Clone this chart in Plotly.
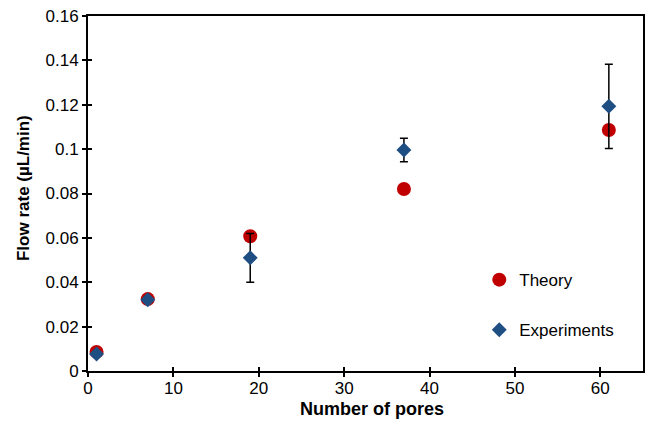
import plotly.graph_objects as go

pores = [1, 7, 19, 37, 61]
theory = [0.0086, 0.0324, 0.0607, 0.0820, 0.1086]
experiments = [0.0077, 0.0321, 0.0510, 0.0996, 0.1193]
exp_err = [0.0, 0.0, 0.011, 0.0053, 0.019]

x_ticks = [0, 10, 20, 30, 40, 50, 60]
y_ticks = [0, 0.02, 0.04, 0.06, 0.08, 0.1, 0.12, 0.14, 0.16]
y_tick_labels = ["0", "0.02", "0.04", "0.06", "0.08", "0.1", "0.12", "0.14", "0.16"]

FONT = "Liberation Sans, Arial, sans-serif"

fig = go.Figure()
fig.add_trace(go.Scatter(
    x=pores, y=theory, mode="markers", name="Theory",
    marker=dict(symbol="circle", size=14, color="#C00000"),
    legend="legend",
))
fig.add_trace(go.Scatter(
    x=pores, y=experiments, mode="markers", name="Experiments",
    marker=dict(symbol="diamond", size=11.5, color="#1F4E82"),
    error_y=dict(type="data", array=exp_err, visible=True, color="black",
                 thickness=1.5, width=4),
    legend="legend2",
))

axis_common = dict(showgrid=False, zeroline=False, showline=True,
                   linecolor="black", linewidth=2, mirror=True, automargin=False,
                   ticks="outside", ticklen=4, tickwidth=1.5, tickcolor="black",
                   ticklabeloverflow="allow",
                   tickfont=dict(family=FONT, size=17, color="black"))

fig.update_layout(
    width=646, height=423,
    margin=dict(l=88, r=3, t=16, b=52),
    paper_bgcolor="white", plot_bgcolor="white",
    font=dict(family=FONT, color="black"),
    xaxis=dict(range=[0, 65], tickvals=x_ticks, ticklabelstandoff=-3, **axis_common),
    yaxis=dict(range=[0, 0.16], tickvals=y_ticks, ticktext=y_tick_labels, **axis_common),
    xaxis2=dict(range=[0, 65], tickvals=x_ticks, overlaying="x", side="bottom",
                showticklabels=False, showgrid=False, zeroline=False, showline=False,
                ticks="inside", ticklen=4, tickwidth=1.5, tickcolor="black", anchor="y"),
    yaxis2=dict(range=[0, 0.16], tickvals=y_ticks, overlaying="y", side="left",
                showticklabels=False, showgrid=False, zeroline=False, showline=False,
                ticks="inside", ticklen=4, tickwidth=1.5, tickcolor="black", anchor="x"),
    legend=dict(x=0.705, y=0.256, xanchor="left", yanchor="middle",
                bgcolor="rgba(0,0,0,0)", font=dict(family=FONT, size=17),
                itemwidth=30, tracegroupgap=0),
    legend2=dict(x=0.705, y=0.115, xanchor="left", yanchor="middle",
                 bgcolor="rgba(0,0,0,0)", font=dict(family=FONT, size=17),
                 itemwidth=30, tracegroupgap=0),
    showlegend=True,
    annotations=[
        dict(text="<b>Number of pores</b>", xref="paper", yref="paper",
             x=0.511, y=-0.107, xanchor="center", yanchor="middle", showarrow=False,
             font=dict(family=FONT, size=18, color="black")),
        dict(text="<b>Flow rate (µL/min)</b>", xref="paper", yref="paper",
             x=-0.1162, y=0.514, xanchor="center", yanchor="middle", showarrow=False,
             textangle=-90, font=dict(family=FONT, size=17, color="black")),
    ],
)
fig.add_trace(go.Scatter(x=[None], y=[None], xaxis="x2", yaxis="y2",
                         showlegend=False, hoverinfo="skip"))

fig.write_html(
    "out.html",
    config={"displayModeBar": False},
    post_script="document.body.style.margin='0';document.body.style.overflow='hidden';",
)
